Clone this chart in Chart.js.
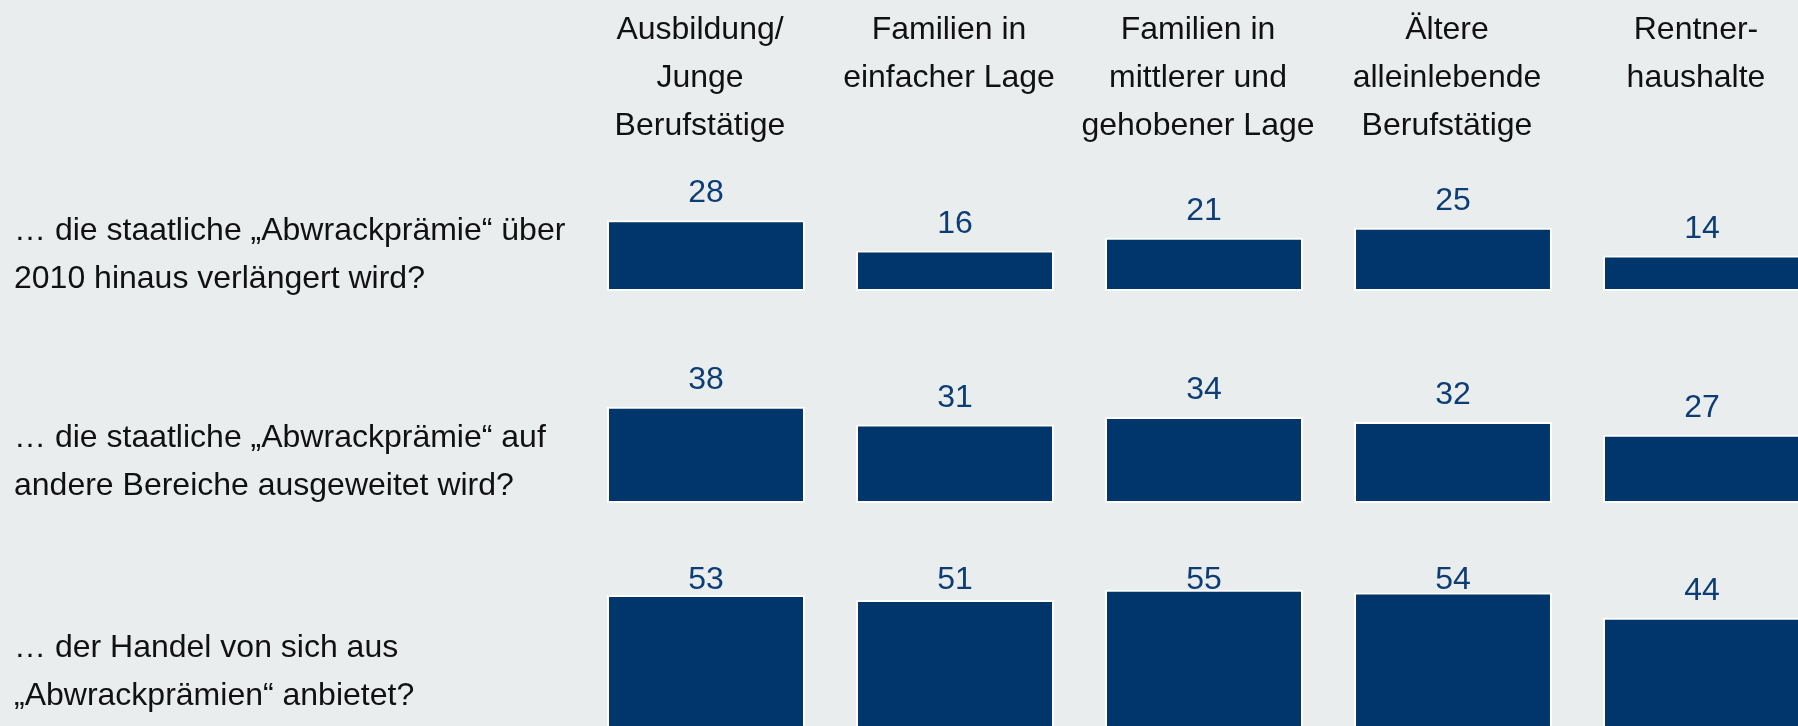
<!DOCTYPE html>
<html>
<head>
<meta charset="utf-8">
<script src="https://cdn.jsdelivr.net/npm/chart.js@4.4.1/dist/chart.umd.min.js"></script>
<style>
html,body{margin:0;padding:0;background:#e9edee;overflow:hidden;width:1798px;height:726px;}
.row{position:absolute;left:0;width:1830px;}
</style>
</head>
<body>
<div class="row" style="top:0;height:321px"><canvas id="row1"></canvas></div>
<div class="row" style="top:291px;height:242px"><canvas id="row2"></canvas></div>
<div class="row" style="top:503px;height:226px"><canvas id="row3"></canvas></div>
<script>
// groups (column headers)
const categories = [
  ["Ausbildung/","Junge","Berufstätige"],
  ["Familien in","einfacher Lage"],
  ["Familien in","mittlerer und","gehobener Lage"],
  ["Ältere","alleinlebende","Berufstätige"],
  ["Rentner-","haushalte"]
];

// questions (row labels)
const questions = [
  ["… die staatliche „Abwrackprämie“ über","2010 hinaus verlängert wird?"],
  ["… die staatliche „Abwrackprämie“ auf","andere Bereiche ausgeweitet wird?"],
  ["… der Handel von sich aus","„Abwrackprämien“ anbietet?"]
];

// values in %
const verlaengert = [28,16,21,25,14];
const ausgeweitet = [38,31,34,32,27];
const handel = [53,51,55,54,44];

const FONT = "'Liberation Sans', Arial, sans-serif";
const PX_PER_UNIT = 2.53;

const textPlugin = {
  id: "texts",
  afterDatasetsDraw(chart, args, opts) {
    const ctx = chart.ctx;
    const x = chart.scales.x;
    ctx.save();
    ctx.font = "32px " + FONT;
    ctx.textBaseline = "alphabetic";

    // value labels (kept below a top limit, like the original)
    ctx.fillStyle = "#0c3d74";
    ctx.textAlign = "center";
    chart.getDatasetMeta(0).data.forEach((bar, i) => {
      const y = Math.max(bar.y - 18, opts.valueMinY);
      ctx.fillText(chart.data.datasets[0].data[i], bar.x, y);
    });

    // column headers
    ctx.fillStyle = "#111";
    if (opts.headers) {
      categories.forEach((lines, i) => {
        const cx = x.getPixelForValue(i) - 6;
        lines.forEach((t, j) => ctx.fillText(t, cx, 39 + j * 48));
      });
    }

    // row label
    ctx.textAlign = "left";
    opts.label.forEach((t, j) => ctx.fillText(t, 14, opts.labelY + j * 48));
    ctx.restore();
  }
};

function makeRow(id, values, label, labelY, valueMinY, padBottom, headers) {
  const canvas = document.getElementById(id);
  const h = canvas.parentNode.clientHeight - padBottom;
  new Chart(canvas, {
    type: "bar",
    data: {
      labels: categories.map(c => c.join(" ")),
      datasets: [{
        data: values,
        backgroundColor: "#00366b",
        borderColor: "#ffffff",
        borderWidth: 2,
        borderSkipped: false,
        barPercentage: 0.795,
        categoryPercentage: 1
      }]
    },
    options: {
      responsive: true,
      maintainAspectRatio: false,
      animation: false,
      layout: {padding: {left: 581.5, right: 3.5, top: 0, bottom: padBottom}},
      scales: {
        x: {display: false},
        y: {display: false, min: 0, max: h / PX_PER_UNIT}
      },
      plugins: {
        legend: {display: false},
        tooltip: {enabled: false},
        texts: {label: label, labelY: labelY, valueMinY: valueMinY, headers: headers}
      }
    },
    plugins: [textPlugin]
  });
}

makeRow("row1", verlaengert, questions[0], 240, 0, 30, true);
makeRow("row2", ausgeweitet, questions[1], 156, 0, 30, false);
makeRow("row3", handel, questions[2], 154, 86, 0, false);
</script>
</body>
</html>
